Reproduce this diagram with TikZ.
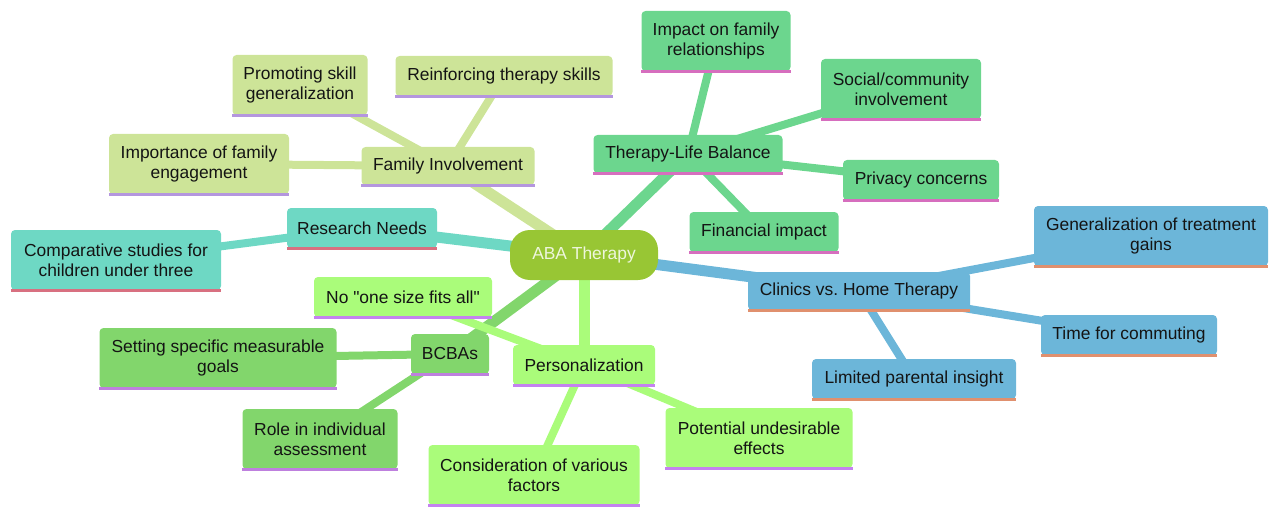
\documentclass[tikz,border=0pt]{standalone}
\usepackage{fontspec}
\setmainfont{Liberation Sans}
\usetikzlibrary{backgrounds}
\definecolor{rootc}{RGB}{152,198,52}
\definecolor{famc}{RGB}{205,228,152}
\definecolor{tlbc}{RGB}{108,214,142}
\definecolor{cvhc}{RGB}{108,182,217}
\definecolor{resc}{RGB}{110,216,196}
\definecolor{bcbc}{RGB}{130,214,108}
\definecolor{perc}{RGB}{170,252,122}
\definecolor{famb}{RGB}{180,150,222}
\definecolor{tlbb}{RGB}{214,110,190}
\definecolor{cvhb}{RGB}{224,144,110}
\definecolor{resb}{RGB}{216,112,128}
\definecolor{bcbb}{RGB}{190,128,222}
\definecolor{perb}{RGB}{196,130,240}
\definecolor{roottext}{RGB}{238,246,220}
\newcommand{\straightquote}{\XeTeXglyph\XeTeXcharglyph"22\relax}
\begin{document}
\begin{tikzpicture}[x=1pt,y=-1pt,
  every node/.style={font=\fontsize{17.4}{20}\selectfont},
  box/.style={rounded corners=4pt, inner sep=0pt, align=center, text=black!92},
  rootbox/.style={rounded corners=20pt, inner sep=0pt, align=center, fill=rootc, text=roottext, minimum width=148pt, minimum height=50pt},
  mainedge/.style={line width=11pt},
  leafedge/.style={line width=8pt},
  bline/.style={line width=3pt}]
\useasboundingbox (0,0) rectangle (1280,516);

\node[rootbox] (root) at (584,255) {ABA Therapy};

% Family Involvement
\node[box, fill=famc, minimum width=173pt, minimum height=38pt] (fam) at (448,166) {Family Involvement};
\node[box, fill=famc, minimum width=135pt, minimum height=60pt] (prom) at (300,85) {Promoting skill\\generalization};
\node[box, fill=famc, minimum width=217pt, minimum height=40pt] (reinf) at (504,76) {Reinforcing therapy skills};
\node[box, fill=famc, minimum width=180pt, minimum height=60pt] (imp) at (199,164) {Importance of family\\engagement};

% Therapy-Life Balance
\node[box, fill=tlbc, minimum width=189pt, minimum height=38pt] (tlb) at (688,154) {Therapy-Life Balance};
\node[box, fill=tlbc, minimum width=149pt, minimum height=60pt] (ifr) at (716,41) {Impact on family\\relationships};
\node[box, fill=tlbc, minimum width=160pt, minimum height=60pt] (soc) at (901,89) {Social/community\\involvement};
\node[box, fill=tlbc, minimum width=156pt, minimum height=40pt] (priv) at (921,180) {Privacy concerns};
\node[box, fill=tlbc, minimum width=149pt, minimum height=40pt] (fin) at (764,232) {Financial impact};

% Clinics vs. Home Therapy
\node[box, fill=cvhc, minimum width=222pt, minimum height=38pt] (cvh) at (859,291) {Clinics vs.\ Home Therapy};
\node[box, fill=cvhc, minimum width=234pt, minimum height=60pt] (gen) at (1151,236) {Generalization of treatment\\gains};
\node[box, fill=cvhc, minimum width=176pt, minimum height=40pt] (time) at (1129,335) {Time for commuting};
\node[box, fill=cvhc, minimum width=204pt, minimum height=40pt] (lim) at (914,379) {Limited parental insight};

% Research Needs
\node[box, fill=resc, minimum width=150pt, minimum height=40pt] (res) at (362,228) {Research Needs};
\node[box, fill=resc, minimum width=210pt, minimum height=60pt] (comp) at (116,260) {Comparative studies for\\children under three};

% BCBAs
\node[box, fill=bcbc, minimum width=78pt, minimum height=40pt] (bcba) at (450,354) {BCBAs};
\node[box, fill=bcbc, minimum width=237pt, minimum height=60pt] (set) at (218,358) {Setting specific measurable\\goals};
\node[box, fill=bcbc, minimum width=155pt, minimum height=60pt] (role) at (320,439) {Role in individual\\assessment};

% Personalization
\node[box, fill=perc, minimum width=142pt, minimum height=40pt] (pers) at (584,365) {Personalization};
\node[box, fill=perc, minimum width=178pt, minimum height=40pt] (nosize) at (403,297) {No \straightquote one size fits all\straightquote};
\node[box, fill=perc, minimum width=211pt, minimum height=60pt] (cons) at (534,475) {Consideration of various\\factors};
\node[box, fill=perc, minimum width=187pt, minimum height=60pt] (pot) at (759,438) {Potential undesirable\\effects};

% bottom borders
\foreach \n in {fam,prom,reinf,imp} \draw[bline, famb] (\n.south west) -- (\n.south east);
\foreach \n in {tlb,ifr,soc,priv,fin} \draw[bline, tlbb] (\n.south west) -- (\n.south east);
\foreach \n in {cvh,gen,time,lim} \draw[bline, cvhb] (\n.south west) -- (\n.south east);
\foreach \n in {res,comp} \draw[bline, resb] (\n.south west) -- (\n.south east);
\foreach \n in {bcba,set,role} \draw[bline, bcbb] (\n.south west) -- (\n.south east);
\foreach \n in {pers,nosize,cons,pot} \draw[bline, perb] (\n.south west) -- (\n.south east);

\begin{scope}[on background layer]
\draw[mainedge, famc] (root.center) -- (fam.center);
\draw[leafedge, famc] (fam.center) -- (prom.center);
\draw[leafedge, famc] (fam.center) -- (reinf.center);
\draw[leafedge, famc] (fam.center) -- (imp.center);

\draw[mainedge, tlbc] (root.center) -- (tlb.center);
\draw[leafedge, tlbc] (tlb.center) -- (ifr.center);
\draw[leafedge, tlbc] (tlb.center) -- (soc.center);
\draw[leafedge, tlbc] (tlb.center) -- (priv.center);
\draw[leafedge, tlbc] (tlb.center) -- (fin.center);

\draw[mainedge, cvhc] (root.center) -- (cvh.center);
\draw[leafedge, cvhc] (cvh.center) -- (gen.center);
\draw[leafedge, cvhc] (cvh.center) -- (time.center);
\draw[leafedge, cvhc] (cvh.center) -- (lim.center);

\draw[mainedge, resc] (root.center) -- (res.center);
\draw[leafedge, resc] (res.center) -- (comp.center);

\draw[mainedge, bcbc] (root.center) -- (bcba.center);
\draw[leafedge, bcbc] (bcba.center) -- (set.center);
\draw[leafedge, bcbc] (bcba.center) -- (role.center);

\draw[mainedge, perc] (root.center) -- (pers.center);
\draw[leafedge, perc] (pers.center) -- (nosize.center);
\draw[leafedge, perc] (pers.center) -- (cons.center);
\draw[leafedge, perc] (pers.center) -- (pot.center);
\end{scope}
\end{tikzpicture}
\end{document}
